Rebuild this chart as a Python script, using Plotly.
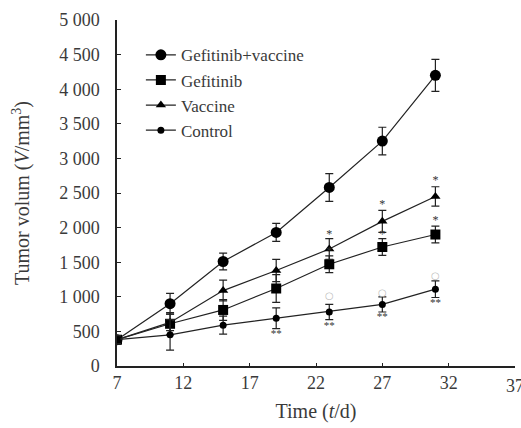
import plotly.graph_objects as go

days = [7, 11, 15, 19, 23, 27, 31]

gv_vals = [380, 900, 1510, 1930, 2580, 3250, 4200]
gv_err = [60, 150, 120, 130, 200, 200, 230]

gef_vals = [380, 610, 810, 1120, 1470, 1720, 1900]
gef_err = [60, 160, 150, 200, 120, 120, 120]

vac_vals = [380, 630, 1090, 1380, 1690, 2090, 2450]
vac_err = [60, 120, 150, 160, 150, 160, 140]

ctl_vals = [380, 450, 590, 690, 780, 890, 1110]
ctl_err = [60, 220, 130, 150, 110, 110, 120]

y_ticks = [0, 500, 1000, 1500, 2000, 2500, 3000, 3500, 4000, 4500, 5000]
y_ticktext = ["0", "500", "1 000", "1 500", "2 000", "2 500", "3 000", "3 500", "4 000", "4 500", "5 000"]
x_ticks = [7, 12, 17, 22, 27, 32]
x_ticktext = ["7", "12", "17", "22", "27", "32"]
x_last = 37
x_last_label = "37"

# significance markers
star_days = [23, 27, 31]
star_vac_y = [1900, 2330, 2680]
star_gef_y = [1650, 1900, 2100]
ctl_circle_y = [1000, 1050, 1300]
ctl_below_days = [19, 23, 27, 31]
ctl_below_y = [460, 580, 700, 910]

FONT = "Liberation Serif"
TXT = "#3a3a3a"

fig = go.Figure()

def add_series(name, vals, err, symbol, size):
    fig.add_trace(go.Scatter(
        x=days, y=vals, name=name, mode="lines+markers", legendgroup=name,
        line=dict(color="#222", width=1.2),
        marker=dict(symbol=symbol, size=size, color="black"),
        error_y=dict(type="data", array=err, visible=True, color="#222", thickness=1.2, width=4),
    ))

add_series("Gefitinib+vaccine", gv_vals, gv_err, "circle", 11)
add_series("Gefitinib", gef_vals, gef_err, "square", 10)
add_series("Vaccine", vac_vals, vac_err, "triangle-up", 9)
add_series("Control", ctl_vals, ctl_err, "circle", 7)

fig.add_trace(go.Scatter(x=star_days, y=star_vac_y, mode="text", text=["*"] * 3,
                         textfont=dict(family=FONT, size=12, color="#333"), showlegend=False))
fig.add_trace(go.Scatter(x=star_days, y=star_gef_y, mode="text", text=["*"] * 3,
                         textfont=dict(family=FONT, size=12, color="#333"), showlegend=False))
fig.add_trace(go.Scatter(x=star_days, y=ctl_circle_y, mode="text", text=["○"] * 3,
                         textfont=dict(family="DejaVu Sans", size=10, color="#bbb"), showlegend=False))
fig.add_trace(go.Scatter(x=ctl_below_days, y=ctl_below_y, mode="text", text=["**"] * 4,
                         textfont=dict(family=FONT, size=11, color="#333"), showlegend=False))

# last x tick mark and its (edge-clipped) label
fig.add_shape(type="line", x0=x_last, x1=x_last, xref="x", y0=0, y1=0, yref="paper",
              line=dict(color="#222", width=1.5), ysizemode="pixel", yanchor=0)
fig.add_annotation(x=x_last, y=0, xref="x", yref="paper", text=x_last_label, showarrow=False,
                   yanchor="top", yshift=-8, font=dict(family=FONT, size=18, color=TXT))

fig.update_layout(
    width=521, height=428,
    margin=dict(l=117, r=6, t=20, b=62),
    paper_bgcolor="white", plot_bgcolor="white",
    font=dict(family=FONT, size=18, color=TXT),
    showlegend=True,
    legend=dict(x=0.06, y=0.95, xanchor="left", yanchor="top", itemsizing="trace",
                bgcolor="rgba(0,0,0,0)", font=dict(family=FONT, size=17, color=TXT),
                tracegroupgap=0),
    xaxis=dict(range=[7, 37], tickvals=x_ticks, ticktext=x_ticktext, showline=True,
               linecolor="#222", linewidth=1.5,
               ticks="inside", ticklen=3, tickcolor="#222", showgrid=False, zeroline=False,
               title=dict(text="Time (<i>t</i>/d)", font=dict(family=FONT, size=20, color=TXT), standoff=12),
               tickfont=dict(family=FONT, size=18, color=TXT)),
    yaxis=dict(range=[0, 5000], tickvals=y_ticks, ticktext=y_ticktext, showline=True,
               linecolor="#222", linewidth=1.5, ticks="inside", ticklen=4, tickcolor="#222",
               showgrid=False, zeroline=False, ticklabelstandoff=12,
               title=dict(text="Tumor volum (<i>V</i>/mm<sup>3</sup>)", font=dict(family=FONT, size=20, color=TXT), standoff=24),
               tickfont=dict(family=FONT, size=18, color=TXT)),
)

fig.write_html("out.html")
